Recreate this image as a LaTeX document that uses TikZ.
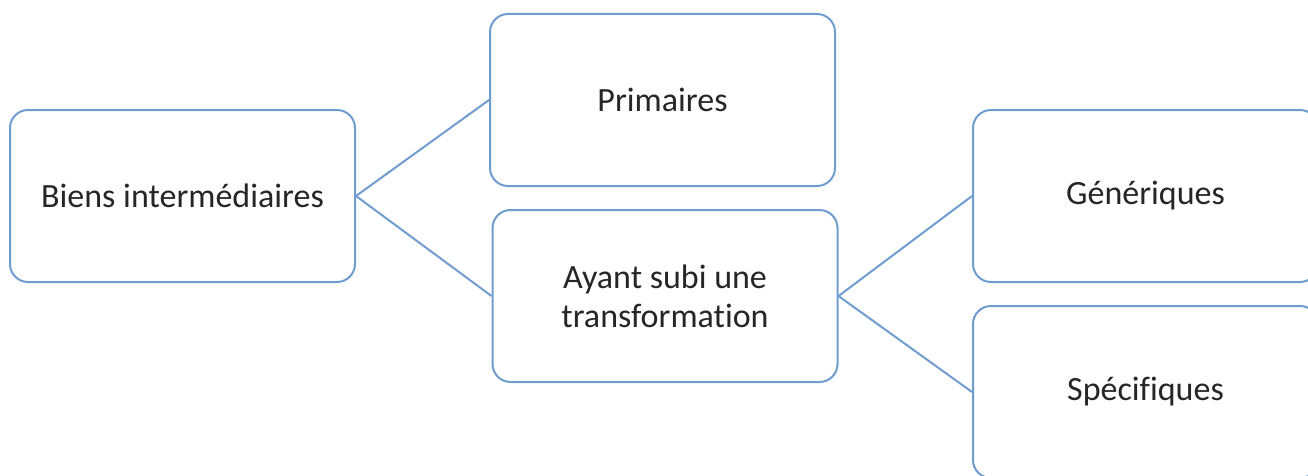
\documentclass[tikz,border=0pt]{standalone}
\usepackage{fontspec}
\setmainfont{Carlito}[Ligatures=NoCommon]
\definecolor{boxblue}{RGB}{112,157,207}
\begin{document}
\begin{tikzpicture}[x=1pt, y=1pt]
      \tikzstyle{BOXSTY} = [draw=boxblue, line width=2pt, fill=white, rectangle, minimum height=172pt, minimum width=345pt, rounded corners=18pt, align=center, font=\fontsize{34}{39}\selectfont, text=black!85]
      \tikzstyle{LINKSTY} = [draw=boxblue, line width=2pt]

      \clip (0, 0) rectangle (1308, 475);

      %%%%% BOXES

      \node[BOXSTY](v0) at (182.5, 279) {Biens intermédiaires};

      \node[BOXSTY](v1) at (662.5, 375) {Primaires};
      \node[BOXSTY](v2) at (665, 179) {Ayant subi une\\transformation};

      \node[BOXSTY](v3) at (1145.5, 279) {Génériques};
      \node[BOXSTY](v4) at (1145.5, 83) {Spécifiques};

      %%%%% LINKS
      \draw[LINKSTY]  (v0.east) -- (v1.west);
      \draw[LINKSTY]  (v0.east) -- (v2.west);

      \draw[LINKSTY]  (v2.east) -- (v3.west);
      \draw[LINKSTY]  (v2.east) -- (v4.west);
    \end{tikzpicture}
\end{document}
